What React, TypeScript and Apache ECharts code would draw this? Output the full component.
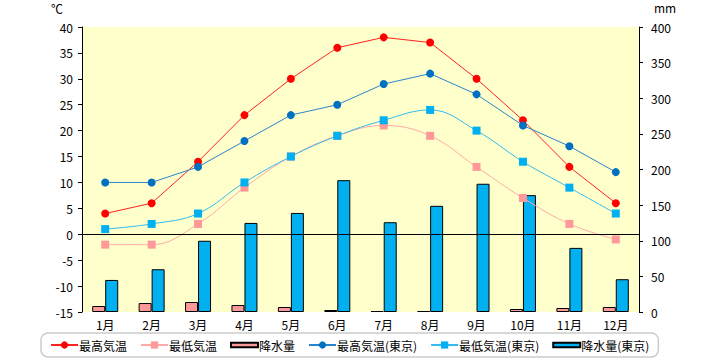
import React, { useEffect, useRef } from "react";
import * as echarts from "echarts";

const months = ["1月", "2月", "3月", "4月", "5月", "6月", "7月", "8月", "9月", "10月", "11月", "12月"];
const maxTemp = [4, 6, 14, 23, 30, 36, 38, 37, 30, 22, 13, 6];
const minTemp = [-2, -2, 2, 9, 15, 19, 21, 19, 13, 7, 2, -1];
const precip = [8.4, 12.6, 14, 9.8, 7, 2.8, 1.4, 1.4, null, 4.2, 5.6, 7];
const maxTempTokyo = [10, 10, 13, 18, 23, 25, 29, 31, 27, 21, 17, 12];
const minTempTokyo = [1, 2, 4, 10, 15, 19, 22, 24, 20, 14, 9, 4];
const precipTokyo = [45, 60, 100, 125, 139, 185, 126, 149, 180, 164, 90, 46];

const FONT = "'Noto Sans CJK JP', 'Noto Sans', sans-serif";

export default function App() {
  const ref = useRef<HTMLDivElement>(null);
  useEffect(() => {
    if (!ref.current) return;
    const chart = echarts.init(ref.current, undefined, { renderer: "svg" });
    const barIcon = "path://M0,0 H27 V4.5 H0 Z";
    chart.setOption({
      animation: false,
      textStyle: { fontFamily: FONT },
      grid: {
        left: 82,
        right: 81,
        top: 27,
        bottom: 48,
        show: true,
        backgroundColor: "#FFFFCC",
        borderWidth: 0,
      },
      legend: {
        left: 41,
        top: 333,
        padding: [6, 9, 6, 9],
        itemGap: 13,
        itemWidth: 27,
        itemHeight: 9,
        borderColor: "#CCCCCC",
        borderWidth: 1.5,
        borderRadius: 7,
        backgroundColor: "#FFFFFF",
        textStyle: { fontSize: 12, color: "#000", fontFamily: FONT, padding: [0, 0, 0, -4] },
        data: [
          { name: "最高気温" },
          { name: "最低気温" },
          { name: "降水量", icon: barIcon },
          { name: "最高気温(東京)" },
          { name: "最低気温(東京)" },
          { name: "降水量(東京)", icon: barIcon },
        ],
      },
      graphic: [
        { type: "text", left: 51, top: 2, style: { text: "℃", fontSize: 12, fill: "#000", fontFamily: FONT } },
        { type: "text", left: 654, top: 1, style: { text: "mm", fontSize: 12, fill: "#000", fontFamily: FONT } },
      ],
      xAxis: {
        type: "category",
        data: months,
        axisLine: { show: false, onZero: false },
        axisTick: { show: false },
        axisLabel: { color: "#000", fontSize: 12, margin: 6, fontFamily: FONT },
        splitLine: { show: false },
      },
      yAxis: [
        {
          type: "value",
          min: -15,
          max: 40,
          interval: 5,
          position: "left",
          axisLine: { show: true, lineStyle: { color: "#000", width: 1 } },
          axisTick: { show: true, length: 4, lineStyle: { color: "#000" } },
          axisLabel: { color: "#000", fontSize: 12, margin: 9, fontFamily: FONT },
          splitLine: { show: false },
        },
        {
          type: "value",
          min: 0,
          max: 400,
          interval: 50,
          position: "right",
          axisLine: { show: true, lineStyle: { color: "#000", width: 1 } },
          axisTick: { show: true, length: 4, lineStyle: { color: "#000" } },
          axisLabel: { color: "#000", fontSize: 12, margin: 12, fontFamily: FONT },
          splitLine: { show: false },
        },
      ],
      series: [
        {
          name: "最高気温",
          type: "line",
          yAxisIndex: 0,
          data: maxTemp,
          symbol: "circle",
          symbolSize: 8,
          z: 5,
          lineStyle: { color: "#FF2222", width: 1 },
          itemStyle: { color: "#FF0000" },
          markLine: {
            silent: true,
            symbol: "none",
            label: { show: false },
            lineStyle: { color: "#000", width: 1, type: "solid" },
            data: [{ yAxis: 0 }],
          },
        },
        {
          name: "最低気温",
          type: "line",
          yAxisIndex: 0,
          data: minTemp,
          smooth: 0.4,
          symbol: "rect",
          symbolSize: 8,
          z: 4,
          lineStyle: { color: "#FFAAAA", width: 1 },
          itemStyle: { color: "#FF9999" },
        },
        {
          name: "降水量",
          type: "bar",
          yAxisIndex: 1,
          data: precip,
          barWidth: 13,
          barGap: "0%",
          z: 1,
          itemStyle: { color: "#FF9999", borderColor: "#000", borderWidth: 1 },
        },
        {
          name: "最高気温(東京)",
          type: "line",
          yAxisIndex: 0,
          data: maxTempTokyo,
          symbol: "circle",
          symbolSize: 8,
          z: 5,
          lineStyle: { color: "#2A84CC", width: 1 },
          itemStyle: { color: "#0070C0" },
        },
        {
          name: "最低気温(東京)",
          type: "line",
          yAxisIndex: 0,
          data: minTempTokyo,
          smooth: 0.4,
          symbol: "rect",
          symbolSize: 8,
          z: 4,
          lineStyle: { color: "#33BBEE", width: 1 },
          itemStyle: { color: "#00B0F0" },
        },
        {
          name: "降水量(東京)",
          type: "bar",
          yAxisIndex: 1,
          data: precipTokyo,
          barWidth: 13,
          barGap: "0%",
          z: 1,
          itemStyle: { color: "#00B0F0", borderColor: "#000", borderWidth: 1 },
        },
      ],
    });
    return () => chart.dispose();
  }, []);
  return (
    <div
      ref={ref}
      style={{ position: "fixed", left: 0, top: 0, width: 720, height: 360, background: "#fff" }}
    />
  );
}
